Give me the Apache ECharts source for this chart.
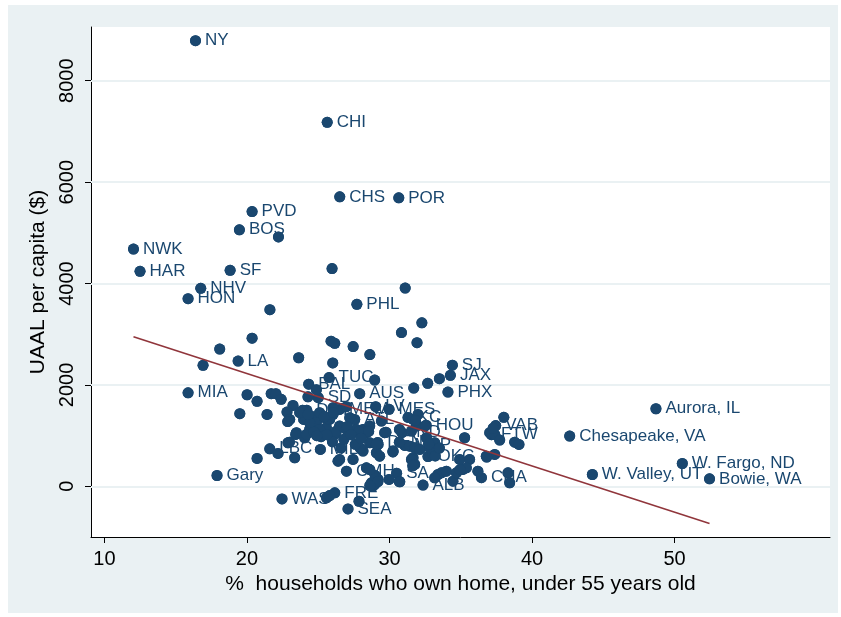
<!DOCTYPE html>
<html>
<head>
<meta charset="utf-8">
<script src="https://cdn.jsdelivr.net/npm/echarts@6/dist/echarts.min.js"></script>
<style>
  html, body { margin: 0; padding: 0; background: #ffffff; }
  #chart { width: 841px; height: 617px; }
</style>
</head>
<body>
<div id="chart"></div>
<script>
// Named cities: code, % of under-55 households owning their home, UAAL per capita ($)
const cityNames = ['NY','CHI','CHS','POR','PVD','BOS','NWK','HAR','SF','NHV','HON','PHL','LA','MIA','TUC','BAL','SD','AUS','SJ','JAX','PHX','LV','MES','KC','HOU','IND','FTW','VAB','ATL','MEM','DET','DEN','MSP','MIL','LBC','Gary','WAS','FRE','SEA','CMH','SA','ALB','OKC','CHA','W. Valley, UT','W. Fargo, ND','Bowie, WA','Chesapeake, VA','Aurora, IL'];
const cityOwnPct = [16.39,25.63,26.51,30.65,20.36,19.47,12.04,12.50,18.82,16.76,15.87,27.71,19.38,15.87,25.76,24.33,25.0,27.91,34.41,34.27,34.10,29.03,29.97,31.3,32.57,30.87,37.15,37.45,27.56,26.5,24.2,29.17,31.07,25.15,21.6,17.9,22.46,26.16,27.09,26.98,30.5,32.35,32.7,36.45,44.23,50.54,52.45,42.64,48.69];
const cityUaal = [8790,7180,5710,5690,5420,5060,4680,4240,4260,3905,3700,3590,2470,1845,2145,2015,1750,1828,2390,2190,1858,1570,1518,1358,1205,1058,1018,1198,1318,1516,1498,865,806,728,740,213,-248,-129,-446,298,258,25,588,170,233,450,147,990,1530];

// Remaining cities, unlabeled: [% owning home, UAAL per capita]
const otherPoints = [
  [22.21,4920],[25.97,4295],[31.10,3910],[21.61,3485],[32.27,3225],[30.84,3032],[20.36,2922],[25.90,2862],
  [26.16,2820],[31.93,2832],[18.09,2708],[27.45,2757],[28.62,2598],[23.63,2536],[26.02,2433],[16.92,2386],
  [28.96,2096],[31.70,1938],[32.68,2031],[33.50,2124],[20.01,1806],[20.71,1676],[19.50,1433],[21.41,1417],
  [21.70,1828],[22.03,1828],[22.40,1716],[24.28,1766],[24.87,1906],[23.23,1596],[22.81,1464],[23.00,1320],
  [23.90,1498],[23.98,1320],[24.64,1373],[24.87,1254],[25.45,1353],[26.04,1419],[25.57,1156],[24.40,1122],
  [23.47,1057],[24.05,958],[23.70,1452],[25.10,1452],[26.04,1550],[26.98,1570],[27.21,1353],[24.40,1254],
  [25.10,1122],[25.80,1320],[26.50,1188],[26.98,1122],[27.68,1122],[28.14,1122],[28.61,1188],[28.49,1089],
  [29.43,1286],[30.70,1122],[31.65,1320],[31.89,1188],[32.00,1417],[31.82,1300],[20.71,549],[22.18,648],
  [22.88,859],[23.35,563],[23.42,1024],[24.17,1024],[26.28,1089],[26.39,496],[26.50,530],[27.44,530],
  [28.38,1057],[28.61,859],[29.20,826],[29.66,1057],[30.25,694],[29.08,662],[29.31,595],[28.14,694],
  [28.38,365],[28.73,69],[29.20,135],[28.84,2],[28.96,36],[29.97,135],[30.72,89],[31.65,563],
  [31.54,530],[31.77,431],[31.54,1089],[32.47,1188],[33.05,629],[33.40,233],[33.64,266],[33.99,298],
  [33.17,168],[34.45,101],[31.42,792],[31.77,760],[32.12,727],[32.59,958],[33.17,859],[34.69,266],
  [35.27,958],[32.82,760],[34.92,530],[35.62,530],[35.15,332],[35.39,365],[36.20,298],[36.79,595],
  [37.38,629],[37.03,1057],[37.38,1024],[37.73,911],[38.78,871],[39.08,826],[38.31,266],[38.43,69],
  [38.02,1361],[37.27,1145],[25.58,-228],[25.80,-182],[27.86,-295],[26.59,754],[27.94,754],[27.87,1083],
  [28.54,1083],[29.07,832],[30.24,678],[30.69,871],[29.75,1066],[26.18,1028],[25.42,1377],[26.06,1454],
  [27.04,1182],[24.71,1066],[22.98,871],[29.00,212],[28.62,328],[29.19,95],[28.62,16],[30.69,95],
  [31.63,405],[32.76,832],[33.21,599],[33.50,754],[34.94,328],[36.82,577],[22.86,1276],[24.29,1417],
  [25.2,978],[26.0,878],[26.8,928],[27.3,1018],[27.6,828],[28.0,948],[25.6,1018],[24.9,998]
];

// Linear fit endpoints (over the observed range of home ownership)
const fitOwnPct = [12.04, 52.45];
const fitUaal = [2950, -735];

// Axis tick values
const xTicks = [10, 20, 30, 40, 50];
const yTicks = [0, 2000, 4000, 6000, 8000];

const NAVY = '#1a476f';
const MAROON = '#90353b';
const PANEL = '#eaf1f3';
const FONT = '"Liberation Sans", Arial, sans-serif';

const allPoints = cityNames.map((n, i) => ({ name: n, value: [cityOwnPct[i], cityUaal[i]] }))
  .concat(otherPoints.map(p => ({ name: '', value: p })));

const chart = echarts.init(document.getElementById('chart'), null, { renderer: 'canvas' });

chart.setOption({
  animation: false,
  backgroundColor: '#ffffff',
  graphic: [{
    type: 'rect',
    shape: { x: 8, y: 5, width: 830, height: 608 },
    style: { fill: PANEL },
    z: -10,
    silent: true
  }, {
    type: 'rect',
    shape: { x: 91, y: 27, width: 739, height: 510 },
    style: { fill: '#ffffff' },
    z: -9,
    silent: true
  }],
  grid: { left: 91, right: 11, top: 27, bottom: 80, containLabel: false },
  xAxis: {
    type: 'value',
    min: 9.06,
    max: 60.9,
    name: '%  households who own home, under 55 years old',
    nameLocation: 'middle',
    nameGap: 35,
    nameTextStyle: { fontFamily: FONT, fontSize: 21, color: '#000' },
    axisLine: { show: true, onZero: false, lineStyle: { color: '#000', width: 1 } },
    axisTick: { show: true, customValues: xTicks, length: 6, lineStyle: { color: '#000' } },
    axisLabel: { customValues: xTicks, fontFamily: FONT, fontSize: 20, color: '#000', margin: 12 },
    splitLine: { show: false }
  },
  yAxis: {
    type: 'value',
    min: -1000,
    max: 9060,
    name: 'UAAL per capita ($)',
    nameLocation: 'middle',
    nameGap: 34,
    nameTextStyle: { fontFamily: FONT, fontSize: 21, color: '#000' },
    axisLine: { show: true, onZero: false, lineStyle: { color: '#000', width: 1 } },
    axisTick: { show: true, customValues: yTicks, length: 6, lineStyle: { color: '#000' } },
    axisLabel: {
      customValues: yTicks,
      rotate: 90,
      formatter: v => String(v),
      fontFamily: FONT,
      fontSize: 20,
      color: '#000',
      margin: 14
    },
    splitLine: { show: false }
  },
  series: [
    {
      // horizontal grid lines at the y ticks
      type: 'scatter',
      data: [],
      silent: true,
      z: 1,
      markLine: {
        silent: true,
        symbol: ['none', 'none'],
        z: 1,
        label: { show: false },
        lineStyle: { color: PANEL, width: 2, type: 'solid' },
        data: yTicks.map(v => ({ yAxis: v }))
      }
    },
    {
      // markers with city labels
      type: 'scatter',
      data: allPoints,
      symbol: 'circle',
      symbolSize: 11,
      itemStyle: { color: NAVY, opacity: 1 },
      z: 2,
      label: {
        show: true,
        position: 'right',
        distance: 4,
        formatter: p => p.name,
        fontFamily: FONT,
        fontSize: 17,
        color: NAVY
      }
    },
    {
      // markers redrawn above the labels
      type: 'scatter',
      data: allPoints.map(p => p.value),
      symbol: 'circle',
      symbolSize: 11,
      itemStyle: { color: NAVY, opacity: 1 },
      z: 3
    },
    {
      type: 'line',
      data: fitOwnPct.map((x, i) => [x, fitUaal[i]]),
      showSymbol: false,
      symbol: 'none',
      lineStyle: { color: MAROON, width: 1.6 },
      z: 4
    }
  ]
});
</script>
</body>
</html>
